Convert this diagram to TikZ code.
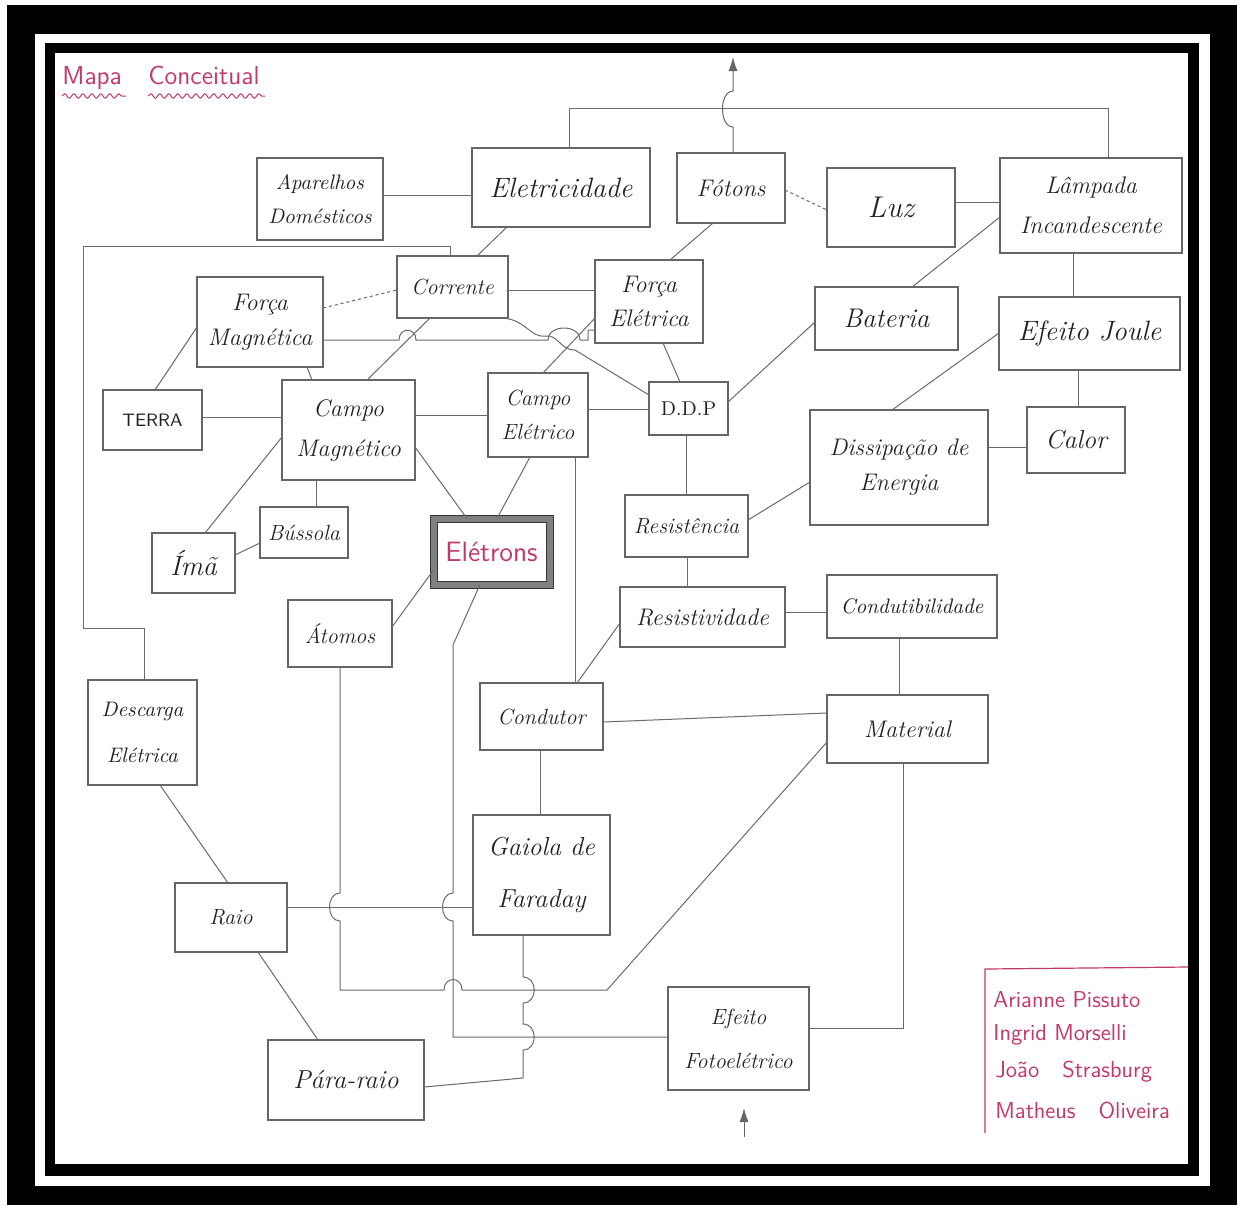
\documentclass[tikz,border=0pt]{standalone}
\usepackage{fontspec}
\usetikzlibrary{calc,arrows.meta,decorations.pathmorphing}
\definecolor{pinkink}{HTML}{C23A6A}
\definecolor{ink}{HTML}{222222}
\begin{document}
\begin{tikzpicture}[x=0.5pt,y=-0.5pt,
  box/.style={draw=black!60, line width=0.7pt, rectangle, inner sep=0pt, outer sep=0pt, align=center, text=ink},
  sz/.style 2 args={minimum width=#1, minimum height=#2},
  hw/.style 2 args={font=\fontsize{#1}{#2}\selectfont\itshape},
  ln/.style={draw=black!58, line width=0.5pt},
  dotln/.style={ln, dash pattern=on 1.6pt off 1.4pt},
  tip/.style={-{Latex[length=7pt,width=4.5pt]}}
]
\useasboundingbox (0,0) rectangle (1240,1205);
% frame
\fill[black] (7,5) rectangle (1237,1205);
\fill[white] (35,34) rectangle (1210,1186);
\fill[black] (45,43) rectangle (1199,1176);
\fill[white] (55,53) rectangle (1188,1164);

% title
\node[anchor=base west, text=pinkink, font=\fontsize{13}{15}\selectfont\sffamily, inner sep=0pt] (tmapa) at (62,84) {Mapa};
\node[anchor=base west, text=pinkink, font=\fontsize{13}{15}\selectfont\sffamily, inner sep=0pt] (tconc) at (148,84) {Conceitual};
\draw[pinkink, line width=0.5pt, decorate, decoration={snake, amplitude=1.1pt, segment length=4.5pt}] (62,96) -- (126,96);
\draw[pinkink, line width=0.5pt, decorate, decoration={snake, amplitude=1.1pt, segment length=4.5pt}] (148,96) -- (265,96);

% nodes
\node[box, sz={63pt}{41pt}, hw={10.5}{17}] (apar) at (320,199) {Aparelhos\\Domésticos};
\node[box, sz={89pt}{39.5pt}, hw={14}{17}] (elet) at (561,187.5) {Eletricidade};
\node[box, sz={54pt}{35pt}, hw={12}{15}] (foto) at (731,188) {Fótons};
\node[box, sz={64pt}{39.5pt}, hw={15}{17}] (luz) at (891,207.5) {Luz};
\node[box, sz={91pt}{47.5pt}, hw={12}{20}] (lamp) at (1091,205.5) {Lâmpada\\Incandescente};
\node[box, sz={71.5pt}{31.5pt}, hw={13.5}{16}] (bat) at (886.5,318.5) {Bateria};
\node[box, sz={90.5pt}{36.5pt}, hw={14}{16}] (joule) at (1089.5,333.5) {Efeito Joule};
\node[box, sz={49pt}{33pt}, hw={13}{15}] (calor) at (1076,440) {Calor};
\node[box, sz={89pt}{57.5pt}, hw={12}{17.5}] (diss) at (899,467.5) {Dissipação de\\Energia};
\node[box, sz={85pt}{31.5pt}, hw={10.5}{13}] (condut) at (912,606.5) {Condutibilidade};
\node[box, sz={80.5pt}{34pt}, hw={12}{15}] (mat) at (907.5,729) {Material};
\node[box, sz={55.5pt}{31pt}, hw={11}{14}] (corr) at (452.5,287) {Corrente};
\node[box, sz={54pt}{41.5pt}, hw={12}{17}] (fel) at (649,301.5) {Força\\Elétrica};
\node[box, sz={63pt}{45pt}, hw={12}{17.5}] (fmag) at (260,322) {Força\\Magnética};
\node[box, sz={49.5pt}{30pt}, font=\fontsize{9}{11}\selectfont\sffamily] (terra) at (152.5,420) {TERRA};
\node[box, sz={66.5pt}{50pt}, hw={12}{20}] (cmag) at (348.5,430) {Campo\\Magnético};
\node[box, sz={44pt}{25.5pt}, hw={11}{13}] (buss) at (304,532.5) {Bússola};
\node[box, sz={41.5pt}{30pt}, hw={14}{16}] (ima) at (193.5,563) {Ímã};
\node[box, sz={58pt}{33pt}, draw=black!50, line width=3.5pt, text=pinkink, font=\fontsize{14}{16}\selectfont\sffamily] (eltr) at (491.5,551.5) {Elétrons};
\draw[black!80, line width=0.5pt] ([shift={(-3.5,-3.5)}]eltr.north west) rectangle ([shift={(3.5,3.5)}]eltr.south east);
\draw[black!80, line width=0.5pt] ([shift={(3.5,3.5)}]eltr.north west) rectangle ([shift={(-3.5,-3.5)}]eltr.south east);
\node[box, sz={50pt}{42pt}, hw={11}{17}] (cel) at (538,415) {Campo\\Elétrico};
\node[box, sz={39.5pt}{26.5pt}, font=\fontsize{10}{12}\selectfont] (ddp) at (688.5,408.5) {D.D.P};
\node[box, sz={61.5pt}{31pt}, hw={11}{13}] (resi) at (686.5,526) {Resistência};
\node[box, sz={82.5pt}{30pt}, hw={12}{14}] (resv) at (702.5,617) {Resistividade};
\node[box, sz={52pt}{33.5pt}, hw={11}{13}] (atom) at (340,633.5) {Átomos};
\node[box, sz={54.5pt}{52.5pt}, hw={10.5}{23}] (desc) at (142.5,732.5) {Descarga\\Elétrica};
\node[box, sz={56pt}{34.5pt}, hw={11}{13}] (raio) at (231,917.5) {Raio};
\node[box, sz={61.5pt}{33.5pt}, hw={11}{13}] (cond) at (541.5,716.5) {Condutor};
\node[box, sz={68.5pt}{60pt}, hw={13}{26}] (gai) at (541.5,875) {Gaiola de\\Faraday};
\node[box, sz={70.5pt}{51.5pt}, hw={11}{22}] (efot) at (738.5,1038.5) {Efeito\\Fotoelétrico};
\node[box, sz={78pt}{40pt}, hw={13}{15}] (para) at (346,1080) {Pára-raio};

% authors
\draw[pinkink, line width=0.6pt] (1188,967) -- (985,969) -- (985,1133);
\begin{scope}[every node/.style={anchor=west, inner sep=0pt, text=pinkink, font=\fontsize{11.5}{13}\selectfont\sffamily}]
\node (au1) at (993,1000) {Arianne Pissuto};
\node (au2) at (993,1035) {Ingrid Morselli};
\node (au3) at (995,1072) {João\quad Strasburg};
\node (au4) at (995,1110) {Matheus\quad Oliveira};
\end{scope}

% free ends
\coordinate (topout) at (733,57);
\coordinate (fotoin) at (744,1137);

% connectors
\draw[ln] (apar.east |- 0,195) -- (elet.west |- 0,195);
\draw[ln] (569,0 |- elet.north) -- (569,108) -- (1108,108) -- (1108,0 |- lamp.north);
\draw[ln, tip, black!60] (733,0 |- foto.north) -- (733,127) .. controls (719,127) and (719,91) .. (733,91) -- (topout);
\draw[ln] (507,0 |- elet.south) -- (477,0 |- corr.north);
\draw[ln] (713,0 |- foto.south) -- (670,0 |- fel.north);
\draw[dotln] (foto.east |- 0,190) -- (luz.west |- 0,210);
\draw[ln] (luz.east |- 0,202) -- (lamp.west |- 0,202);
\draw[ln] (lamp.west |- 0,217) -- (912,0 |- bat.north);
\draw[ln] (1073,0 |- lamp.south) -- (1073,0 |- joule.north);
\draw[ln] (1078,0 |- joule.south) -- (1078,0 |- calor.north);
\draw[ln] (joule.west |- 0,333) -- (892,0 |- diss.north);
\draw[ln] (diss.east |- 0,447) -- (calor.west |- 0,447);
\draw[ln] (bat.west |- 0,322) -- (ddp.east |- 0,402);
\draw[ln] (diss.west |- 0,482) -- (resi.east |- 0,520);
\draw[ln] (686,0 |- ddp.south) -- (686,0 |- resi.north);
\draw[ln] (687,0 |- resi.south) -- (687,0 |- resv.north);
\draw[ln] (resv.east |- 0,612) -- (condut.west |- 0,612);
\draw[ln] (899,0 |- condut.south) -- (899,0 |- mat.north);
\draw[ln] (cond.east |- 0,722) -- (mat.west |- 0,713);
\draw[ln] (903,0 |- mat.south) -- (903,1028) -- (efot.east |- 0,1028);
\draw[ln] (resv.west |- 0,623) -- (577,0 |- cond.north);
\draw[ln] (575,0 |- cel.south) -- (575,0 |- cond.north);
\draw[ln] (540,0 |- cond.south) -- (540,0 |- gai.north);
\draw[ln] (cel.east |- 0,409) -- (ddp.west |- 0,409);
\draw[ln] (cmag.east |- 0,415) -- (cel.west |- 0,415);
\draw[ln] (cmag.east |- 0,447) -- (467,0 |- eltr.north);
\draw[ln] (530,0 |- cel.south) -- (497,0 |- eltr.north);
\draw[ln] (atom.east |- 0,627) -- (eltr.west |- 0,570);
\draw[ln] (480,0 |- eltr.south) -- (453,645) -- (453,893) .. controls (439,893) and (439,921) .. (453,921) -- (453,1037) -- (efot.west |- 0,1037);
\draw[ln] (340,0 |- atom.south) -- (340,893) .. controls (326,893) and (326,921) .. (340,921) -- (340,990) -- (444,990) .. controls (444,976) and (462,976) .. (462,990) -- (607,990) -- (mat.west |- 0,742);
\draw[ln] (523,0 |- gai.south) -- (523,977) .. controls (538,977) and (538,1003) .. (523,1003) -- (523,1024) .. controls (538,1024) and (538,1050) .. (523,1050) -- (523,1078) -- (para.east |- 0,1087);
\draw[ln] (raio.east |- 0,907) -- (gai.west |- 0,907);
\draw[ln] (258,0 |- raio.south) -- (318,0 |- para.north);
\draw[ln] (160,0 |- desc.south) -- (228,0 |- raio.north);
\draw[ln] (450,0 |- corr.north) -- (450,246) -- (83,246) -- (83,628) -- (144,628) -- (144,0 |- desc.north);
\draw[dotln] (fmag.east |- 0,308) -- (corr.west |- 0,290);
\draw[ln] (fmag.west |- 0,327) -- (155,0 |- terra.north);
\draw[ln] (307,0 |- fmag.south) -- (312,0 |- cmag.north);
\draw[ln] (fmag.east |- 0,340) -- (399,340) .. controls (399,327) and (416,327) .. (416,340) -- (548,340) .. controls (548,324) and (580,324) .. (580,340) -- (588,340) -- (588,330) -- (fel.west |- 0,330);
\draw[ln] (corr.east |- 0,290) -- (fel.west |- 0,290);
\draw[ln] (430,0 |- corr.south) -- (367,0 |- cmag.north);
\draw[ln] (663,0 |- fel.south) -- (680,0 |- ddp.north);
\draw[ln] (500,0 |- corr.south) .. controls (525,318) and (530,338) .. (545,336) .. controls (558,334) and (560,350) .. (575,350) -- (ddp.west |- 0,395);
\draw[ln] (543,0 |- cel.north) -- (fel.west |- 0,318);
\draw[ln, tip, black!60] (fotoin) -- ([yshift=-9pt]efot.south -| fotoin);
\draw[ln] (205,0 |- ima.north) -- (cmag.west |- 0,437);
\draw[ln] (ima.east |- 0,555) -- (buss.west |- 0,543);
\draw[ln] (316,0 |- cmag.south) -- (316,0 |- buss.north);
\draw[ln] (terra.east |- 0,417) -- (cmag.west |- 0,417);
\end{tikzpicture}
\end{document}
